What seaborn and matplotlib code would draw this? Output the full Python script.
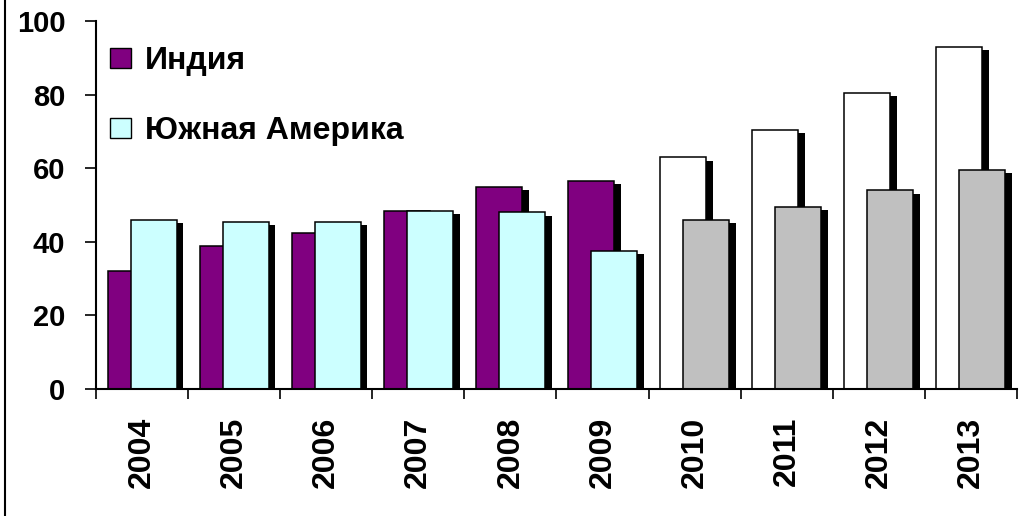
import seaborn as sns
import pandas as pd
import matplotlib.pyplot as plt
import matplotlib.patheffects as pe
from matplotlib.lines import Line2D

# values
years = ['2004', '2005', '2006', '2007', '2008', '2009', '2010', '2011', '2012', '2013']
india = [32, 39, 42.5, 48.5, 55, 56.5, 63, 70.5, 80.5, 93]
south_america = [46, 45.5, 45.5, 48.5, 48, 37.5, 46, 49.5, 54, 59.5]
forecast = [False, False, False, False, False, False, True, True, True, True]
series_names = ['Индия', 'Южная Америка']

df = pd.DataFrame({
    'year': years * 2,
    'value': india + south_america,
    'series': [series_names[0]] * len(years) + [series_names[1]] * len(years),
})

sns.set_style('ticks')
plt.rcParams['font.family'] = ['Liberation Sans', 'DejaVu Sans']
plt.rcParams['font.weight'] = 'bold'
plt.rcParams['text.color'] = 'black'
plt.rcParams['xtick.color'] = 'black'
plt.rcParams['ytick.color'] = 'black'

fig = plt.figure(figsize=(10.19, 5.16), dpi=100)
ax = fig.add_axes([0.0942, 0.246, 0.9038, 0.7133])

sns.barplot(data=df, x='year', y='value', hue='series', hue_order=series_names,
            palette=['#800080', '#CCFFFF'], saturation=1, width=0.5, dodge=True,
            edgecolor='black', linewidth=1.1, ax=ax)

# widen the dodged bars so they overlap, colour the forecast years, add shadows
forecast_colors = ['white', '#C0C0C0']
for k, cont in enumerate(ax.containers):
    for i, bar in enumerate(cont):
        c = bar.get_x() + bar.get_width() / 2
        bar.set_x(c - 0.25)
        bar.set_width(0.5)
        if forecast[i]:
            bar.set_facecolor(forecast_colors[k])
        bar.set_path_effects([pe.SimplePatchShadow(offset=(4.8, -2.4), shadow_rgbFace='black', alpha=1.0),
                              pe.Normal()])

ax.set_ylim(0, 100)
ax.set_xlim(-0.5, len(years) - 0.5)
ax.set_yticks([0, 20, 40, 60, 80, 100])
ax.set_xticks([i - 0.5 for i in range(len(years) + 1)], minor=True)
ax.set_xlabel('')
ax.set_ylabel('')

ax.tick_params(axis='y', length=8, width=1.2, pad=14, labelsize=21, colors='black')
ax.tick_params(axis='x', which='major', length=0, pad=20, labelsize=23, rotation=90, colors='black')
ax.tick_params(axis='x', which='minor', length=7, width=1.2, direction='out', colors='black')
sns.despine(ax=ax)
for s in ['left', 'bottom']:
    ax.spines[s].set_linewidth(1.5)
    ax.spines[s].set_color('black')

sns.move_legend(ax, 'upper left', bbox_to_anchor=(0.108, 0.91), bbox_transform=fig.transFigure,
                frameon=False, title=None, fontsize=23, handlelength=0.65, handleheight=0.6,
                handletextpad=0.45, labelspacing=1.25, borderpad=0, borderaxespad=0)
leg = ax.get_legend()
for h in leg.legend_handles:
    h.set_edgecolor('black')
    h.set_linewidth(1)
for t in leg.get_texts():
    t.set_color('black')

# chart area border on the left
fig.add_artist(Line2D([0.005, 0.005], [0, 1], transform=fig.transFigure, color='black', lw=1.5))

fig.savefig('out.png', dpi=100)
